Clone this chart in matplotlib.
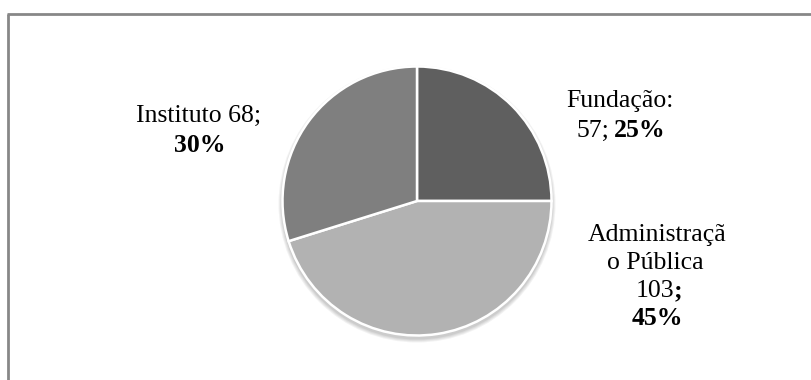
import matplotlib
matplotlib.use("Agg")
import matplotlib.pyplot as plt
from matplotlib.patches import Circle
from matplotlib.lines import Line2D

# Data
categories = ["Fundação", "Administração Pública", "Instituto"]
values = [57, 103, 68]
colors = ["#5f5f5f", "#b2b2b2", "#7f7f7f"]

total = sum(values)
pcts = [round(v / total * 100) for v in values]

W, H = 811, 380
fig = plt.figure(figsize=(W / 100, H / 100), dpi=100)
ax = fig.add_axes([0, 0, 1, 1])

cx, cy, r = 417, H - 201, 134.5

# soft shadow under the pie
for i, a in enumerate([0.05, 0.05, 0.05, 0.06]):
    ax.add_patch(Circle((cx, cy - 3), r + 4 - i, facecolor="black",
                        edgecolor="none", alpha=a, zorder=0))

ax.pie(values, colors=colors, startangle=90, counterclock=False,
       center=(cx, cy), radius=r,
       wedgeprops=dict(edgecolor="white", linewidth=1.8))

ax.set_xlim(0, W)
ax.set_ylim(0, H)
ax.set_aspect("equal")
ax.axis("off")

font = dict(family="Liberation Serif", fontsize=18.5, color="black")


def px(x, y):
    return x, H - y


# Instituto label
ax.text(*px(199, 122), f"Instituto {values[2]};", ha="center", va="baseline", **font)
ax.text(*px(200, 152), f"{pcts[2]}%", ha="center", va="baseline", fontweight="bold", **font)

# Fundação label
ax.text(*px(620, 107), "Fundação:", ha="center", va="baseline", **font)
ax.text(*px(609, 137), f"{values[0]};", ha="right", va="baseline", **font)
ax.text(*px(614, 137), f"{pcts[0]}%", ha="left", va="baseline", fontweight="bold", **font)

# Administração Pública label
ax.text(*px(657, 241), "Administraçã", ha="center", va="baseline", **font)
ax.text(*px(655, 269), "o Pública", ha="center", va="baseline", **font)
ax.text(*px(655, 297), f"{values[1]}", ha="center", va="baseline", **font)
ax.text(*px(674, 297), ";", ha="left", va="baseline", fontweight="bold", **font)
ax.text(*px(657, 325), f"{pcts[1]}%", ha="center", va="baseline", fontweight="bold", **font)

# chart frame (left and top edges)
frame_kw = dict(color="#878787", linewidth=2, solid_capstyle="butt")
fig.add_artist(Line2D([7.5 / W, 7.5 / W], [0, 1 - 13.5 / H], transform=fig.transFigure, **frame_kw))
fig.add_artist(Line2D([6.5 / W, 1], [1 - 13.5 / H, 1 - 13.5 / H], transform=fig.transFigure, **frame_kw))

fig.savefig("out.png", dpi=100)
